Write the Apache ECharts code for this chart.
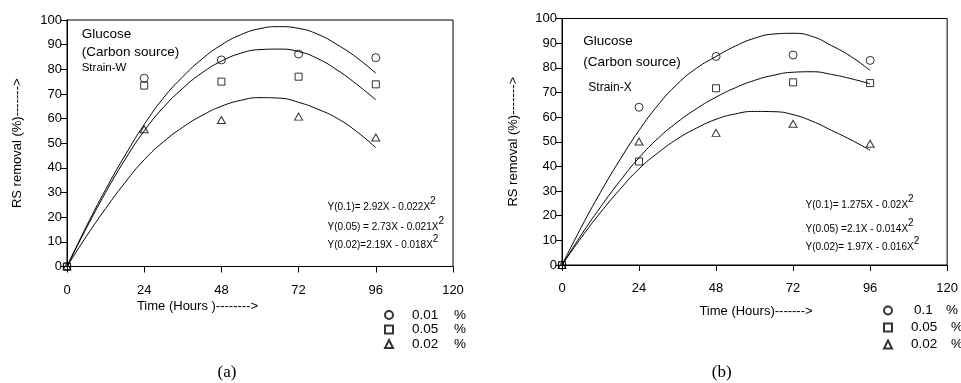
<!DOCTYPE html>
<html>
<head>
<meta charset="utf-8">
<script src="https://cdn.jsdelivr.net/npm/echarts@6/dist/echarts.min.js"></script>
<style>
html,body{margin:0;padding:0;background:#fff;}
#chart{width:961px;height:383px;}
</style>
</head>
<body>
<div id="chart"></div>
<script>
// ---- data ----
const hours = [0, 24, 48, 72, 96];

// Panel (a) Strain-W measured points
const wCircle   = [0, 76.4, 83.8, 86.2, 84.7];
const wSquare   = [0, 73.4, 75.0, 77.0, 73.9];
const wTriangle = [0, 55.7, 59.4, 60.8, 52.3];
// Panel (b) Strain-X measured points
const xCircle   = [0, 64.0, 84.6, 85.2, 83.0];
const xSquare   = [0, 42.0, 71.7, 74.1, 73.8];
const xTriangle = [0, 50.1, 53.6, 57.3, 49.2];

// fitted curves, every 6 hours
const fitHours = [0, 6, 12, 18, 24, 30, 36, 42, 48, 54, 60, 66, 72, 78, 84, 90, 96];
const wFitTop = [0, 16.2, 31.2, 45.0, 57.6, 68.4, 77.0, 84.2, 89.9, 94.0, 96.5, 97.3, 96.6, 94.2, 90.0, 84.8, 78.4];
const wFitMid = [0, 15.5, 30.0, 43.3, 55.0, 64.6, 72.3, 78.6, 83.3, 86.5, 88.0, 88.2, 87.2, 84.3, 79.7, 74.0, 67.6];
const wFitBot = [0, 12.2, 23.5, 34.0, 43.3, 50.6, 56.5, 61.3, 65.0, 67.4, 68.5, 68.3, 66.6, 63.8, 60.1, 54.8, 48.2];
const xFitTop = [0, 15.3, 29.5, 42.6, 54.6, 65.0, 73.5, 79.9, 84.6, 88.8, 92.0, 93.7, 94.0, 92.7, 89.0, 84.6, 78.9];
const xFitMid = [0, 12.2, 23.5, 34.0, 43.5, 51.5, 58.0, 63.5, 68.1, 71.9, 74.9, 77.0, 78.2, 78.4, 77.3, 75.6, 73.5];
const xFitBot = [0, 11.1, 21.3, 30.6, 39.0, 45.6, 51.2, 55.6, 59.1, 61.3, 62.3, 62.2, 61.0, 58.3, 54.6, 50.8, 46.5];

const legendA = ['0.01 %', '0.05 %', '0.02 %'];
const legendB = ['0.1 %', '0.05 %', '0.02 %'];

const eqA = ['Y(0.1)= 2.92X - 0.022X', 'Y(0.05) = 2.73X - 0.021X', 'Y(0.02)=2.19X - 0.018X'];
const eqB = ['Y(0.1)= 1.275X - 0.02X', 'Y(0.05) =2.1X - 0.014X', 'Y(0.02)= 1.97X - 0.016X'];

// ---- styling / construction ----
const FONT = '"Liberation Sans", Arial, Helvetica, sans-serif';
const SERIF = '"Liberation Serif", "Times New Roman", serif';
const BLACK = '#000';

function pairs(xs, ys) { return xs.map((x, i) => [x, ys[i]]); }

function xAxisCfg(gi) {
  return {
    type: 'value', gridIndex: gi, min: 0, max: 120, interval: 24,
    axisLine: { show: true, onZero: false, lineStyle: { color: BLACK, width: 1 } },
    axisTick: { show: true, inside: false, length: 6, lineStyle: { color: BLACK } },
    axisLabel: { margin: 17, fontSize: 13, color: BLACK, fontFamily: FONT },
    splitLine: { show: false }
  };
}
function yAxisCfg(gi, gap) {
  return {
    type: 'value', gridIndex: gi, min: 0, max: 100, interval: 10,
    name: 'RS removal (%)------->', nameLocation: 'middle', nameGap: gap,
    nameTextStyle: { fontSize: 13, color: BLACK, fontFamily: FONT },
    axisLine: { show: true, onZero: false, lineStyle: { color: BLACK, width: 1 } },
    axisTick: { show: true, inside: false, length: 6, lineStyle: { color: BLACK } },
    axisLabel: { margin: 5, fontSize: 13, color: BLACK, fontFamily: FONT },
    splitLine: { show: false }
  };
}
const markerStyle = { color: 'rgba(255,255,255,0)', borderColor: BLACK, borderWidth: 1 };
function scatter(name, gi, ys, symbol, size) {
  return {
    type: 'scatter', name: name, xAxisIndex: gi, yAxisIndex: gi,
    data: pairs(hours, ys), symbol: symbol, symbolSize: size,
    itemStyle: markerStyle, z: 5, emphasis: { disabled: true }
  };
}
function fit(name, gi, ys) {
  return {
    type: 'line', name: name, xAxisIndex: gi, yAxisIndex: gi,
    data: pairs(fitHours, ys), smooth: true, showSymbol: false, symbol: 'none',
    lineStyle: { color: BLACK, width: 1 }, z: 3, silent: true
  };
}
function legendCfg(names, left, top, gap, widths) {
  return {
    data: names, orient: 'vertical', left: left, top: top, itemGap: gap, padding: 0,
    itemWidth: 8, itemHeight: 8, selectedMode: false,
    textStyle: {
      color: BLACK, fontFamily: FONT, fontSize: 13.5, lineHeight: 13,
      rich: {
        g: { width: widths.g, fontSize: 13.5, lineHeight: 13 },
        g2: { width: widths.g2, fontSize: 13.5, lineHeight: 13 },
        v: { width: widths.v, fontSize: 13.5, lineHeight: 13, color: BLACK, fontFamily: FONT },
        v2: { width: widths.v2, fontSize: 13.5, lineHeight: 13, color: BLACK, fontFamily: FONT },
        p: { fontSize: 13.5, lineHeight: 13, color: BLACK, fontFamily: FONT }
      }
    },
    formatter: function (n) {
      const parts = n.split(' ');
      if (parts[0].length < 4) return '{g2| }{v2|' + parts[0] + '}{p|' + parts[1] + '}';
      return '{g| }{v|' + parts[0] + '}{p|' + parts[1] + '}';
    }
  };
}
function txt(text, x, y, size, opts) {
  return {
    type: 'text', x: x, y: y, silent: true, z: 10,
    style: Object.assign({ text: text, fill: BLACK, fontSize: size, fontFamily: FONT,
      align: 'left', verticalAlign: 'middle' }, opts || {})
  };
}
function eq(text, x, y) {
  return {
    type: 'text', x: x, y: y, silent: true, z: 10,
    style: {
      text: '{b|' + text + '}{s|2}', align: 'left', verticalAlign: 'middle', fill: BLACK,
      fontFamily: FONT, fontSize: 10,
      rich: {
        b: { fontSize: 10, lineHeight: 22, verticalAlign: 'middle', fontFamily: FONT, fill: BLACK },
        s: { fontSize: 10, lineHeight: 10, verticalAlign: 'top', fontFamily: FONT, fill: BLACK }
      }
    }
  };
}

const option = {
  backgroundColor: '#fff',
  animation: false,
  grid: [
    { left: 67, top: 20, width: 386, height: 246.5, show: true, borderColor: BLACK, borderWidth: 1, backgroundColor: 'transparent' },
    { left: 562, top: 18.5, width: 387, height: 246.5, show: true, borderColor: BLACK, borderWidth: 1, backgroundColor: 'transparent' }
  ],
  xAxis: [xAxisCfg(0), xAxisCfg(1)],
  yAxis: [yAxisCfg(0, 43), yAxisCfg(1, 42)],
  legend: [
    legendCfg(legendA, 384, 308, 0.5, { g: 14, g2: 14, v: 42, v2: 42 }),
    legendCfg(legendB, 883, 303.5, 3, { g: 14, g2: 17, v: 40, v2: 32 })
  ],
  series: [
    fit('fitA1', 0, wFitTop), fit('fitA2', 0, wFitMid), fit('fitA3', 0, wFitBot),
    fit('fitB1', 1, xFitTop), fit('fitB2', 1, xFitMid), fit('fitB3', 1, xFitBot),
    scatter(legendA[0], 0, wCircle, 'circle', 8),
    scatter(legendA[1], 0, wSquare, 'rect', 7),
    scatter(legendA[2], 0, wTriangle, 'triangle', [8, 7]),
    scatter(legendB[0], 1, xCircle, 'circle', 8),
    scatter(legendB[1], 1, xSquare, 'rect', 7),
    scatter(legendB[2], 1, xTriangle, 'triangle', [8, 7])
  ],
  graphic: [
    txt('Glucose', 81.7, 34.5, 13.5),
    txt('(Carbon source)', 81.7, 52.5, 13.5),
    txt('Strain-W', 81.7, 67.5, 11.5),
    txt('Glucose', 583.3, 41, 13.5),
    txt('(Carbon source)', 583.3, 62, 13.5),
    txt('Strain-X', 588.3, 88, 12),
    eq(eqA[0], 327.5, 207), eq(eqA[1], 327.5, 227), eq(eqA[2], 327.5, 245),
    eq(eqB[0], 805.5, 205), eq(eqB[1], 805.5, 229), eq(eqB[2], 805.5, 247),
    txt('Time (Hours )-------->', 197.5, 306.7, 13, { align: 'center' }),
    txt('Time (Hours)------->', 756, 311, 13, { align: 'center' }),
    txt('(a)', 227, 373, 17, { align: 'center', fontFamily: SERIF }),
    txt('(b)', 721.7, 373, 17, { align: 'center', fontFamily: SERIF })
  ]
};

const chart = echarts.init(document.getElementById('chart'), null, { renderer: 'canvas' });
chart.setOption(option);
</script>
</body>
</html>
